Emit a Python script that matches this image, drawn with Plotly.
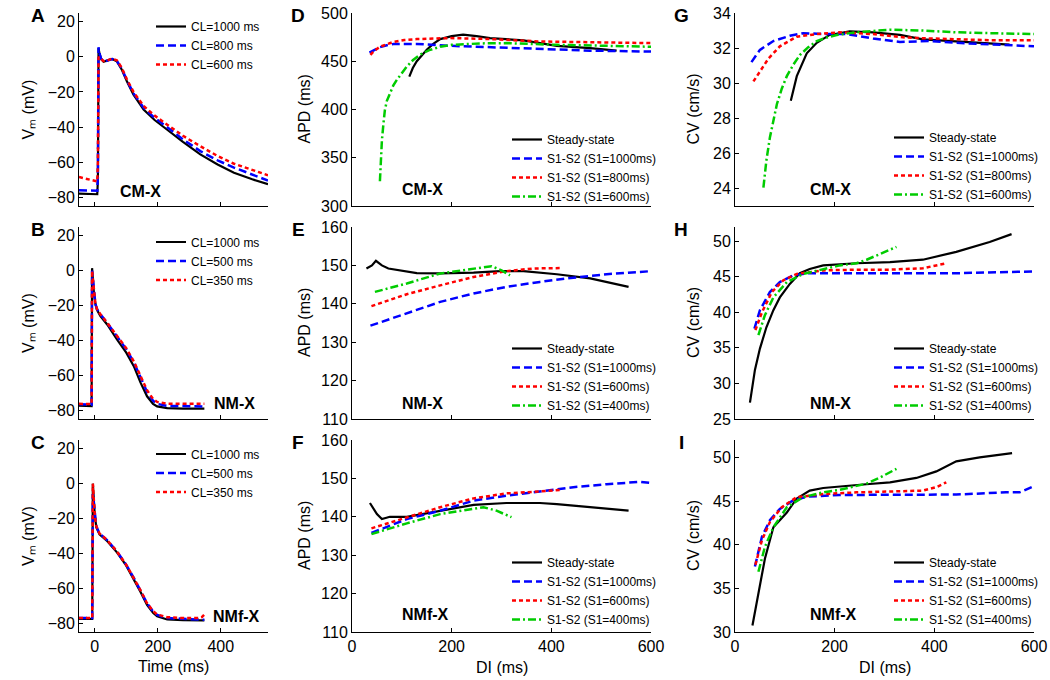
import plotly.graph_objects as go

# ---------------- DATA ----------------
# Panel A: CM-X action potentials (time ms, Vm mV)
A_t = [-50, 8, 10, 12, 15, 20, 28, 40, 55, 70, 85, 102, 123, 155, 190, 229, 280, 335, 390, 442, 500, 550]
A_v_1000 = [-78, -78.3, -70, 5, 2, -1, -2.8, -2.0, -1.2, -2.5, -7, -13.9, -21.5, -30, -36, -41.4, -48.5, -55.6, -61.3, -66, -69.8, -72.6]
A_v_800 = [-76, -76.3, -68, 5.5, 2, -1, -2.8, -2.0, -1.2, -2.3, -6.5, -13.3, -20.8, -29, -34.8, -40, -47, -53.7, -59, -63.1, -67.2, -70.5]
A_v_600 = [-68.5, -71, -60, 0, -0.5, -1.2, -2.4, -2.0, -1.0, -2.0, -6, -12.8, -20, -28, -33.5, -38.5, -45, -50.9, -56.5, -60.9, -64.6, -67.5]

# Panel B: NM-X action potentials
B_t = [-50, -10, -8.5, -7, -3, 2, 7, 18, 40, 71, 100, 124, 145, 166, 185, 198, 230, 280, 348]
B_v_1000 = [-77.3, -77.6, 1.4, -3, -12, -19, -22.4, -26, -31, -39.5, -47, -54.7, -64, -72, -76.3, -77.8, -78.8, -79, -79]
B_v_500 = [-76.5, -76.8, 0, -3, -12, -19, -22, -25, -30, -38, -45, -52.5, -61, -69.5, -74.5, -76.3, -77.5, -77.8, -77.8]
B_v_350 = [-76.3, -76.5, 0, -3, -12, -19, -22, -25, -30, -37.5, -44.5, -52, -60, -68.5, -73.5, -75.2, -76.2, -76.3, -76.3]

# Panel C: NMf-X action potentials
C_t = [-50, -8, -6, -4, 0, 5, 15, 40, 71, 100, 124, 145, 166, 185, 198, 230, 280, 330, 340, 348]
C_v_1000 = [-77.5, -77.5, 0, -8, -18, -25, -29, -33, -39.5, -47, -54.7, -62, -69.5, -74, -76, -77.8, -78.2, -78.3, -78.3, -78.3]
C_v_500 = [-77, -77, -6, -10, -18, -24.5, -28.5, -32.5, -39, -46.5, -54, -61, -68.5, -73.2, -75.2, -77, -77.5, -77.7, -77.8, -78]
C_v_350 = [-77, -77, 0, -9, -18, -24.5, -28.5, -32.5, -39, -46.5, -54, -61, -68.5, -73, -75, -76.5, -77, -77, -76.5, -75]

# Panel D: CM-X APD restitution (DI ms, APD ms)
D_ss_x = [115, 122, 130, 140, 150, 163, 177, 200, 223, 250, 277, 344, 411, 478, 531]
D_ss_y = [434, 443, 450, 456.5, 462, 468, 473, 476, 477.5, 476, 474, 471.6, 466, 463.6, 461]
D_1000_x = [35, 45, 56, 70, 83, 105, 130, 197, 277, 377, 478, 600]
D_1000_y = [459, 462, 464.6, 466.5, 467.8, 468, 468, 466, 464.6, 462.6, 461, 460]
D_800_x = [37, 45, 56, 70, 83, 105, 130, 197, 277, 377, 478, 600]
D_800_y = [456.7, 461, 465, 468, 470, 472, 473, 474, 473, 470.5, 469.5, 468.8]
D_600_x = [56, 58, 60, 63, 66, 70, 76, 83, 90, 100, 110, 122, 136, 155, 177, 200, 223, 260, 310, 411, 511, 600]
D_600_y = [325.7, 350, 368, 385, 399.5, 409, 417, 425, 430.7, 438, 444.5, 451, 456.7, 461.5, 465, 467, 467.8, 468.5, 468.8, 467, 466, 465]

# Panel E: NM-X APD restitution
E_ss_x = [29, 40, 48, 60, 73, 96, 130, 177, 244, 297, 344, 411, 478, 555]
E_ss_y = [149.2, 150, 151.2, 150, 149.2, 148.7, 148, 147.9, 148.1, 148.5, 148.5, 147.7, 146.6, 144.4]
E_1000_x = [37, 110, 177, 244, 310, 377, 444, 511, 600]
E_1000_y = [134.3, 137.5, 140.5, 142.7, 144.4, 145.7, 146.8, 147.7, 148.5]
E_600_x = [39, 110, 177, 244, 310, 364, 421]
E_600_y = [139.4, 142.5, 144.8, 147, 148.5, 149.2, 149.3]
E_400_x = [46, 110, 177, 244, 280, 300, 317]
E_400_y = [143.1, 145.3, 147.9, 149.2, 149.8, 148.7, 147.4]

# Panel F: NMf-X APD restitution
F_ss_x = [36, 50, 60, 76, 110, 177, 244, 310, 377, 411, 478, 555]
F_ss_y = [143.6, 140.7, 139.4, 140, 140, 141.6, 143.1, 143.6, 143.6, 143.3, 142.5, 141.6]
F_1000_x = [39, 110, 177, 244, 310, 377, 444, 511, 578, 600]
F_1000_y = [135.8, 139.4, 141.6, 144.2, 145.5, 146.6, 147.7, 148.5, 149.1, 148.8]
F_600_x = [39, 110, 177, 244, 310, 377, 417]
F_600_y = [137, 139.9, 142.5, 144.8, 146.1, 146.6, 147]
F_400_x = [39, 110, 177, 244, 264, 290, 320]
F_400_y = [135.5, 138.3, 140.7, 142, 142.5, 141.6, 139.9]

# Panel G: CM-X CV restitution (DI ms, CV cm/s)
G_ss_x = [112, 124, 144, 164, 190, 230, 277, 331, 377, 444, 511, 551]
G_ss_y = [29.0, 30.4, 31.7, 32.3, 32.75, 32.95, 32.9, 32.75, 32.5, 32.4, 32.3, 32.2]
G_1000_x = [33, 50, 77, 110, 137, 177, 224, 277, 331, 391, 444, 511, 600]
G_1000_y = [31.2, 31.9, 32.4, 32.7, 32.85, 32.8, 32.8, 32.55, 32.35, 32.4, 32.3, 32.2, 32.1]
G_800_x = [37, 50, 67, 90, 124, 164, 210, 277, 344, 391, 444, 511, 600]
G_800_y = [30.1, 30.65, 31.4, 32.1, 32.65, 32.8, 32.9, 32.8, 32.6, 32.55, 32.5, 32.45, 32.45]
G_600_x = [57, 63, 70, 77, 84, 94, 104, 117, 130, 147, 164, 184, 204, 244, 311, 377, 444, 511, 600]
G_600_y = [24.05, 25.6, 26.9, 27.9, 28.8, 29.7, 30.4, 31.05, 31.6, 32.05, 32.4, 32.6, 32.75, 32.9, 33.05, 33.0, 32.9, 32.85, 32.8]

# Panel H: NM-X CV restitution
H_ss_x = [30, 35, 40, 50, 63, 77, 90, 110, 130, 150, 177, 244, 311, 377, 444, 511, 555]
H_ss_y = [27.3, 29.8, 31.9, 34.9, 37.9, 40.3, 42.1, 44.0, 45.5, 46.1, 46.6, 46.9, 47.05, 47.4, 48.5, 49.9, 51.0]
H_1000_x = [39, 50, 70, 90, 117, 144, 210, 311, 444, 600]
H_1000_y = [37.7, 40.3, 42.85, 44.25, 45.2, 45.5, 45.5, 45.5, 45.5, 45.75]
H_600_x = [41, 54, 74, 97, 124, 177, 244, 311, 377, 424]
H_600_y = [37.5, 40.0, 42.85, 44.5, 45.4, 45.9, 46.0, 46.0, 46.2, 46.9]
H_400_x = [47, 60, 77, 104, 137, 177, 210, 244, 264, 291, 324]
H_400_y = [36.8, 39.6, 42.1, 44.25, 45.4, 46.1, 46.6, 46.9, 47.4, 48.2, 49.2]

# Panel I: NMf-X CV restitution
I_ss_x = [35, 50, 60, 77, 104, 124, 150, 177, 210, 257, 311, 364, 404, 444, 491, 556]
I_ss_y = [30.75, 35.2, 38.4, 42.0, 43.7, 45.3, 46.2, 46.5, 46.7, 46.9, 47.15, 47.65, 48.4, 49.55, 50.0, 50.5]
I_1000_x = [40, 54, 70, 90, 117, 144, 210, 311, 444, 544, 571, 600]
I_1000_y = [37.5, 40.9, 42.8, 44.1, 45.1, 45.5, 45.7, 45.75, 45.75, 46.0, 46.0, 46.7]
I_600_x = [41, 54, 70, 94, 124, 177, 244, 311, 377, 404, 424]
I_600_y = [37.7, 40.5, 42.6, 44.3, 45.45, 45.8, 46.0, 46.1, 46.2, 46.6, 47.15]
I_400_x = [47, 60, 77, 104, 137, 177, 210, 244, 264, 291, 324]
I_400_y = [36.9, 39.75, 42.0, 44.3, 45.45, 46.0, 46.3, 46.7, 47.0, 47.7, 48.7]

# Labels
AP_names_A = ["CL=1000 ms", "CL=800 ms", "CL=600 ms"]
AP_names_BC = ["CL=1000 ms", "CL=500 ms", "CL=350 ms"]
R_names_CM = ["Steady-state", "S1-S2 (S1=1000ms)", "S1-S2 (S1=800ms)", "S1-S2 (S1=600ms)"]
R_names_NM = ["Steady-state", "S1-S2 (S1=1000ms)", "S1-S2 (S1=600ms)", "S1-S2 (S1=400ms)"]
Y_TITLES = ["V\u2098 (mV)", "APD (ms)", "CV (cm/s)"]
X_TITLES = ["Time (ms)", "DI (ms)", "DI (ms)"]

# ---------------- STYLE ----------------
FONT = "Arial, 'Liberation Sans', Helvetica, sans-serif"
W, H = 1050, 680
COL_PX = [(79, 268), (352, 651), (735, 1034)]      # pixel extents of plot areas
ROW_PX = [(13, 206), (227, 419), (440, 632)]
YTITLE_X = [28, 304, 693]
XTITLE_Y = [666, 667, 667]
LETTER_X = [38, 298, 681]

STY = {
    "k": dict(color="#000000", width=2.2, dash="solid"),
    "b": dict(color="#0000FF", width=2.5, dash="8px,4px"),
    "r": dict(color="#FF0000", width=2.5, dash="4px,3px"),
    "g": dict(color="#00CC00", width=2.5, dash="8px,3px,2px,3px"),
}

# panel definitions in row-major order: A D G / B E H / C F I
# leg = (left px, px, anchor)
panels = [
    dict(row=0, col=0, letter="A", tag="CM-X", yr=[-85, 25], yt=[-80, -60, -40, -20, 0, 20],
         traces=[(A_t, A_v_1000, "k", AP_names_A[0]), (A_t, A_v_800, "b", AP_names_A[1]), (A_t, A_v_600, "r", AP_names_A[2])],
         leg=(151, 12, "top"), tagpos=(140, 191)),
    dict(row=0, col=1, letter="D", tag="CM-X", yr=[300, 500], yt=[300, 350, 400, 450, 500],
         traces=[(D_ss_x, D_ss_y, "k", R_names_CM[0]), (D_1000_x, D_1000_y, "b", R_names_CM[1]),
                 (D_800_x, D_800_y, "r", R_names_CM[2]), (D_600_x, D_600_y, "g", R_names_CM[3])],
         leg=(507, 168, "middle"), tagpos=(422, 189)),
    dict(row=0, col=2, letter="G", tag="CM-X", yr=[23, 34], yt=[24, 26, 28, 30, 32, 34],
         traces=[(G_ss_x, G_ss_y, "k", R_names_CM[0]), (G_1000_x, G_1000_y, "b", R_names_CM[1]),
                 (G_800_x, G_800_y, "r", R_names_CM[2]), (G_600_x, G_600_y, "g", R_names_CM[3])],
         leg=(889, 166, "middle"), tagpos=(830, 189)),
    dict(row=1, col=0, letter="B", tag="NM-X", yr=[-85, 25], yt=[-80, -60, -40, -20, 0, 20],
         traces=[(B_t, B_v_1000, "k", AP_names_BC[0]), (B_t, B_v_500, "b", AP_names_BC[1]), (B_t, B_v_350, "r", AP_names_BC[2])],
         leg=(151, 261, "middle"), tagpos=(234, 403)),
    dict(row=1, col=1, letter="E", tag="NM-X", yr=[110, 160], yt=[110, 120, 130, 140, 150, 160],
         traces=[(E_ss_x, E_ss_y, "k", R_names_NM[0]), (E_1000_x, E_1000_y, "b", R_names_NM[1]),
                 (E_600_x, E_600_y, "r", R_names_NM[2]), (E_400_x, E_400_y, "g", R_names_NM[3])],
         leg=(507, 377, "middle"), tagpos=(422, 403)),
    dict(row=1, col=2, letter="H", tag="NM-X", yr=[25, 52], yt=[25, 30, 35, 40, 45, 50],
         traces=[(H_ss_x, H_ss_y, "k", R_names_NM[0]), (H_1000_x, H_1000_y, "b", R_names_NM[1]),
                 (H_600_x, H_600_y, "r", R_names_NM[2]), (H_400_x, H_400_y, "g", R_names_NM[3])],
         leg=(889, 377, "middle"), tagpos=(830, 403)),
    dict(row=2, col=0, letter="C", tag="NMf-X", yr=[-85, 25], yt=[-80, -60, -40, -20, 0, 20],
         traces=[(C_t, C_v_1000, "k", AP_names_BC[0]), (C_t, C_v_500, "b", AP_names_BC[1]), (C_t, C_v_350, "r", AP_names_BC[2])],
         leg=(151, 473, "middle"), tagpos=(237, 616)),
    dict(row=2, col=1, letter="F", tag="NMf-X", yr=[110, 160], yt=[110, 120, 130, 140, 150, 160],
         traces=[(F_ss_x, F_ss_y, "k", R_names_NM[0]), (F_1000_x, F_1000_y, "b", R_names_NM[1]),
                 (F_600_x, F_600_y, "r", R_names_NM[2]), (F_400_x, F_400_y, "g", R_names_NM[3])],
         leg=(507, 591, "middle"), tagpos=(425, 614)),
    dict(row=2, col=2, letter="I", tag="NMf-X", yr=[30, 52], yt=[30, 35, 40, 45, 50],
         traces=[(I_ss_x, I_ss_y, "k", R_names_NM[0]), (I_1000_x, I_1000_y, "b", R_names_NM[1]),
                 (I_600_x, I_600_y, "r", R_names_NM[2]), (I_400_x, I_400_y, "g", R_names_NM[3])],
         leg=(889, 591, "middle"), tagpos=(833, 614)),
]

fig = go.Figure()
layout = dict(
    width=W, height=H, margin=dict(l=0, r=0, t=0, b=0, pad=0, autoexpand=False),
    paper_bgcolor="white", plot_bgcolor="white",
    font=dict(family=FONT, size=16, color="black"),
    showlegend=True, annotations=[],
)


def px_x(p):
    return p / W


def px_y(p):
    return 1 - p / H


for i, p in enumerate(panels):
    k = i + 1
    sfx = "" if k == 1 else str(k)
    r, c = p["row"], p["col"]
    xd = [px_x(COL_PX[c][0]), px_x(COL_PX[c][1])]
    yd = [px_y(ROW_PX[r][1]), px_y(ROW_PX[r][0])]
    if c == 0:
        xr, xt = [-50, 550], [0, 200, 400]
    else:
        xr, xt = [0, 600], [0, 200, 400, 600]
    common = dict(showline=True, linecolor="black", linewidth=1, mirror=False,
                  showgrid=False, zeroline=False, ticks="inside", ticklen=4,
                  tickcolor="black", tickwidth=1, automargin=False,
                  ticklabeloverflow="allow", tickfont=dict(size=16, family=FONT))
    layout["xaxis" + sfx] = dict(domain=xd, range=xr, tickvals=xt, anchor="y" + sfx,
                                 showticklabels=(r == 2), **common)
    layout["yaxis" + sfx] = dict(domain=yd, range=p["yr"], tickvals=p["yt"], anchor="x" + sfx,
                                 **common)
    legname = "legend" + sfx
    lx, ly, lanchor = p["leg"]
    layout[legname] = dict(
        x=px_x(lx), y=px_y(ly), xanchor="left", yanchor=lanchor,
        bgcolor="rgba(0,0,0,0)", borderwidth=0, tracegroupgap=0, itemwidth=30,
        font=dict(size=12, family=FONT), itemclick=False, itemdoubleclick=False,
    )
    for (xs, ys, s, name) in p["traces"]:
        fig.add_trace(go.Scatter(x=xs, y=ys, mode="lines", name=name, line=STY[s],
                                 xaxis="x" + sfx, yaxis="y" + sfx, legend=legname,
                                 showlegend=True, hoverinfo="skip"))
    # panel letter
    layout["annotations"].append(dict(
        text="<b>%s</b>" % p["letter"], x=px_x(LETTER_X[c]), y=px_y(ROW_PX[r][0] + 2),
        xref="paper", yref="paper", showarrow=False,
        font=dict(size=19, family=FONT), xanchor="center", yanchor="middle"))
    # cell-type tag
    layout["annotations"].append(dict(
        text="<b>%s</b>" % p["tag"], x=px_x(p["tagpos"][0]), y=px_y(p["tagpos"][1]),
        xref="paper", yref="paper", showarrow=False,
        font=dict(size=16, family=FONT), xanchor="center", yanchor="middle"))
    # y-axis title
    layout["annotations"].append(dict(
        text=Y_TITLES[c], x=px_x(YTITLE_X[c]), y=px_y((ROW_PX[r][0] + ROW_PX[r][1]) / 2),
        xref="paper", yref="paper", showarrow=False, textangle=-90,
        font=dict(size=16, family=FONT), xanchor="center", yanchor="middle"))
    # x-axis title (bottom row only)
    if r == 2:
        layout["annotations"].append(dict(
            text=X_TITLES[c], x=px_x((COL_PX[c][0] + COL_PX[c][1]) / 2), y=px_y(XTITLE_Y[c]),
            xref="paper", yref="paper", showarrow=False,
            font=dict(size=16, family=FONT), xanchor="center", yanchor="middle"))

fig.update_layout(**layout)
# remove the browser's default 8px page margin so the 1050x680 figure fills the window
fig.write_html("out.html", config={"displayModeBar": False},
               post_script="document.body.style.margin='0';")
